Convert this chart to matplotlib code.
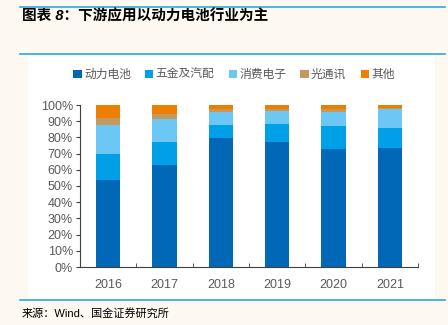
import numpy as np
import matplotlib
matplotlib.use("Agg")
import matplotlib.pyplot as plt
from matplotlib.patches import Rectangle
from matplotlib.lines import Line2D

plt.rcParams['font.family'] = ['Liberation Sans', 'Noto Sans CJK SC', 'DejaVu Sans']

years = ["2016", "2017", "2018", "2019", "2020", "2021"]
names = ["动力电池", "五金及汽配", "消费电子", "光通讯", "其他"]
power = [53.8, 62.9, 79.5, 77.0, 72.7, 73.5]
hardware = [15.8, 14.1, 8.3, 11.2, 14.3, 12.6]
consumer = [18.2, 14.5, 7.9, 7.9, 8.7, 11.6]
optical = [4.1, 2.9, 1.6, 1.4, 1.6, 0.5]
other = [8.1, 5.6, 2.7, 2.5, 2.7, 1.8]
colors = ["#0068B7", "#00A0E9", "#6DC7F4", "#C49A5C", "#EC7E00"]

fig = plt.figure(figsize=(4.48, 3.25), dpi=100)
fig.patch.set_facecolor("#FDF9F0")

# white panel and blue rules
fig.patches.append(Rectangle((28 / 448, 1 - 298 / 325), 407 / 448, 243 / 325,
                             transform=fig.transFigure, facecolor="white",
                             edgecolor="none", zorder=-5))
for yy in (7, 54, 300):
    fig.lines.append(Line2D([20 / 448, 445 / 448], [1 - yy / 325] * 2,
                            transform=fig.transFigure, color="#29A9E1", lw=1.2))

fig.text(22 / 448, 1 - 16 / 325, "图表 8：下游应用以动力电池行业为主",
         fontsize=10.5, fontweight="bold", style="italic", va="center", ha="left")
fig.text(22 / 448, 1 - 313 / 325, "来源：Wind、国金证券研究所",
         fontsize=8, va="center", ha="left")

ax = fig.add_axes([80 / 448, 1 - 267 / 325, 338 / 448, 162 / 325])
ax.set_facecolor("white")
x = np.arange(len(years))
bottom = np.zeros(len(years))
for vals, name, c in zip([power, hardware, consumer, optical, other], names, colors):
    ax.bar(x, vals, 0.43, bottom=bottom, color=c, label=name)
    bottom += np.array(vals)

ax.set_xlim(-0.5, len(years) - 0.5)
ax.set_ylim(0, 100)
ax.set_yticks(np.arange(0, 101, 10))
ax.set_yticklabels([f"{v}%" for v in range(0, 101, 10)])
ax.set_xticks(x)
ax.set_xticklabels(years)
ax.set_xticks(np.arange(-0.5, len(years), 1), minor=True)
ax.tick_params(axis="x", which="major", length=0, pad=9, labelsize=9, labelcolor="#595959")
ax.tick_params(axis="x", which="minor", length=3, direction="in", color="#404040")
ax.tick_params(axis="y", length=3, direction="out", labelsize=9, labelcolor="#595959",
               color="#404040", pad=2)
for s in ("top", "right"):
    ax.spines[s].set_visible(False)
ax.spines["left"].set_color("#404040")
ax.spines["bottom"].set_color("#404040")

fig.legend(loc="center", bbox_to_anchor=(234 / 448, 1 - 75 / 325), ncol=5, frameon=False,
           fontsize=8.5, handlelength=0.7, handleheight=0.7, handletextpad=0.2,
           columnspacing=1.2, labelcolor="#595959")

fig.savefig("out.png", dpi=100, facecolor=fig.get_facecolor())
